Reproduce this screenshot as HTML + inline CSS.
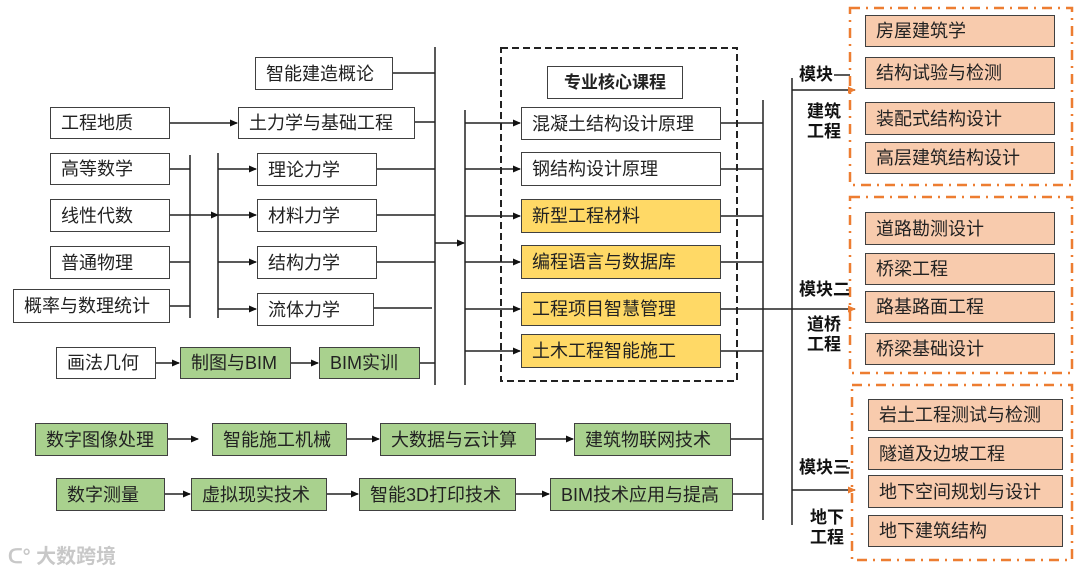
<!DOCTYPE html>
<html><head><meta charset="utf-8"><style>
body{margin:0;width:1080px;height:573px;background:#fff;position:relative;overflow:hidden;font-family:"Liberation Sans","Noto Sans CJK SC",sans-serif;}
.b{position:absolute;box-sizing:border-box;border:1.5px solid #404040;font-size:18px;line-height:1;display:flex;align-items:center;padding-left:10px;color:#222;white-space:nowrap;background:#fff}
.g{background:#a9d18e}
.y{background:#ffd966}
.o{background:#f8cbad}
.c{justify-content:center;padding-left:0}
.t{position:absolute;font-size:17px;font-weight:bold;color:#111;line-height:20px}
svg{position:absolute;left:0;top:0}
</style></head><body>
<svg width="1080" height="573">
<defs><marker id="a" markerWidth="8" markerHeight="8" refX="7" refY="4" orient="auto" markerUnits="userSpaceOnUse"><path d="M0,0.5 L8,4 L0,7.5z" fill="#111"/></marker>
<marker id="ao" markerWidth="8" markerHeight="8" refX="7" refY="4" orient="auto" markerUnits="userSpaceOnUse"><path d="M0,0.5 L8,4 L0,7.5z" fill="#ed7d31"/></marker></defs>
<g stroke="#222" stroke-width="1.5" fill="none">
<line x1="170" y1="123" x2="237" y2="123" marker-end="url(#a)"/>
<line x1="170" y1="169" x2="190" y2="169"/><line x1="170" y1="215" x2="190" y2="215"/><line x1="170" y1="262" x2="190" y2="262"/><line x1="170" y1="306" x2="190" y2="306"/>
<line x1="190" y1="155" x2="190" y2="318"/>
<line x1="190" y1="215" x2="218" y2="215" marker-end="url(#a)"/>
<line x1="218" y1="153" x2="218" y2="318"/>
<line x1="218" y1="169" x2="256" y2="169" marker-end="url(#a)"/><line x1="218" y1="215" x2="256" y2="215" marker-end="url(#a)"/><line x1="218" y1="262" x2="256" y2="262" marker-end="url(#a)"/><line x1="218" y1="309" x2="256" y2="309" marker-end="url(#a)"/>
<line x1="393" y1="73" x2="435" y2="73"/><line x1="415" y1="122" x2="435" y2="122"/>
<line x1="377" y1="169" x2="435" y2="169"/><line x1="377" y1="215" x2="435" y2="215"/><line x1="377" y1="262" x2="435" y2="262"/><line x1="374" y1="308" x2="432" y2="308"/>
<line x1="156" y1="363" x2="179" y2="363" marker-end="url(#a)"/><line x1="291" y1="363" x2="318" y2="363" marker-end="url(#a)"/><line x1="420" y1="363" x2="435" y2="363"/>
<line x1="435" y1="47" x2="435" y2="385"/>
<line x1="435" y1="243" x2="464" y2="243" marker-end="url(#a)"/>
<line x1="465" y1="110" x2="465" y2="385"/>
<line x1="465" y1="123" x2="520" y2="123" marker-end="url(#a)"/><line x1="465" y1="169" x2="520" y2="169" marker-end="url(#a)"/><line x1="465" y1="216" x2="520" y2="216" marker-end="url(#a)"/><line x1="465" y1="262" x2="520" y2="262" marker-end="url(#a)"/><line x1="465" y1="309" x2="520" y2="309" marker-end="url(#a)"/><line x1="465" y1="351" x2="520" y2="351" marker-end="url(#a)"/>
<line x1="721" y1="123" x2="763" y2="123"/><line x1="721" y1="169" x2="763" y2="169"/><line x1="721" y1="216" x2="763" y2="216"/><line x1="721" y1="262" x2="763" y2="262"/><line x1="721" y1="309" x2="855" y2="309" marker-end="url(#ao)"/><line x1="721" y1="351" x2="763" y2="351"/>
<line x1="168" y1="439" x2="198" y2="439" marker-end="url(#a)"/><line x1="347" y1="439" x2="379" y2="439" marker-end="url(#a)"/><line x1="536" y1="439" x2="573" y2="439" marker-end="url(#a)"/><line x1="731" y1="439" x2="763" y2="439"/>
<line x1="165" y1="494" x2="190" y2="494" marker-end="url(#a)"/><line x1="327" y1="494" x2="358" y2="494" marker-end="url(#a)"/><line x1="516" y1="494" x2="549" y2="494" marker-end="url(#a)"/><line x1="733" y1="494" x2="763" y2="494"/>
<line x1="763" y1="100" x2="763" y2="520"/>
<line x1="792" y1="78" x2="792" y2="525"/>
<line x1="792" y1="90" x2="855" y2="90" marker-end="url(#ao)"/>
<line x1="792" y1="490" x2="855" y2="490" marker-end="url(#ao)"/>
<line x1="834" y1="75" x2="850" y2="75"/><line x1="846" y1="290" x2="850" y2="290"/><line x1="846" y1="468" x2="850" y2="468"/>
</g>
<rect x="501" y="48" width="236" height="333" fill="none" stroke="#222" stroke-width="2" stroke-dasharray="7,4"/>
<g fill="none" stroke="#ed7d31" stroke-width="2.5" stroke-dasharray="10,6,2,6">
<rect x="850" y="8" width="222" height="177"/><rect x="850" y="197" width="222" height="176"/><rect x="852" y="385" width="220" height="175"/>
</g>
</svg>
<div class="b" style="left:255px;top:57px;width:138px;height:33px">智能建造概论</div>
<div class="b" style="left:50px;top:107px;width:120px;height:32px">工程地质</div>
<div class="b" style="left:238px;top:107px;width:177px;height:32px">土力学与基础工程</div>
<div class="b" style="left:50px;top:153px;width:120px;height:32px">高等数学</div>
<div class="b" style="left:50px;top:199px;width:120px;height:33px">线性代数</div>
<div class="b" style="left:50px;top:246px;width:120px;height:33px">普通物理</div>
<div class="b" style="left:13px;top:289px;width:157px;height:34px">概率与数理统计</div>
<div class="b" style="left:257px;top:153px;width:120px;height:33px">理论力学</div>
<div class="b" style="left:257px;top:199px;width:120px;height:33px">材料力学</div>
<div class="b" style="left:257px;top:246px;width:120px;height:33px">结构力学</div>
<div class="b" style="left:257px;top:293px;width:117px;height:33px">流体力学</div>
<div class="b" style="left:56px;top:347px;width:100px;height:32px">画法几何</div>
<div class="b g" style="left:180px;top:347px;width:111px;height:32px">制图与BIM</div>
<div class="b g" style="left:319px;top:347px;width:101px;height:32px">BIM实训</div>
<div class="b c" style="left:547px;top:66px;width:136px;height:33px;font-weight:bold;font-size:17px">专业核心课程</div>
<div class="b" style="left:521px;top:107px;width:200px;height:33px">混凝土结构设计原理</div>
<div class="b" style="left:521px;top:152px;width:200px;height:34px">钢结构设计原理</div>
<div class="b y" style="left:521px;top:199px;width:200px;height:34px">新型工程材料</div>
<div class="b y" style="left:521px;top:245px;width:200px;height:34px">编程语言与数据库</div>
<div class="b y" style="left:521px;top:292px;width:200px;height:34px">工程项目智慧管理</div>
<div class="b y" style="left:521px;top:334px;width:200px;height:34px">土木工程智能施工</div>
<div class="b g" style="left:35px;top:423px;width:133px;height:33px">数字图像处理</div>
<div class="b g" style="left:212px;top:423px;width:135px;height:33px">智能施工机械</div>
<div class="b g" style="left:380px;top:423px;width:156px;height:33px">大数据与云计算</div>
<div class="b g" style="left:574px;top:423px;width:157px;height:33px">建筑物联网技术</div>
<div class="b g" style="left:56px;top:478px;width:109px;height:33px">数字测量</div>
<div class="b g" style="left:191px;top:478px;width:136px;height:33px">虚拟现实技术</div>
<div class="b g" style="left:359px;top:478px;width:157px;height:33px">智能3D打印技术</div>
<div class="b g" style="left:550px;top:478px;width:183px;height:33px">BIM技术应用与提高</div>
<div class="b o" style="left:865px;top:15px;width:190px;height:32px">房屋建筑学</div>
<div class="b o" style="left:865px;top:57px;width:190px;height:32px">结构试验与检测</div>
<div class="b o" style="left:865px;top:102px;width:190px;height:33px">装配式结构设计</div>
<div class="b o" style="left:865px;top:142px;width:190px;height:32px">高层建筑结构设计</div>
<div class="b o" style="left:865px;top:212px;width:190px;height:33px">道路勘测设计</div>
<div class="b o" style="left:865px;top:253px;width:190px;height:32px">桥梁工程</div>
<div class="b o" style="left:865px;top:291px;width:190px;height:32px">路基路面工程</div>
<div class="b o" style="left:865px;top:333px;width:190px;height:32px">桥梁基础设计</div>
<div class="b o" style="left:868px;top:399px;width:195px;height:32px">岩土工程测试与检测</div>
<div class="b o" style="left:868px;top:437px;width:195px;height:33px">隧道及边坡工程</div>
<div class="b o" style="left:868px;top:475px;width:195px;height:33px">地下空间规划与设计</div>
<div class="b o" style="left:868px;top:515px;width:195px;height:32px">地下建筑结构</div>
<div class="t" style="left:799px;top:65px">模块</div>
<div class="t" style="left:807px;top:102px;width:36px">建筑<br>工程</div>
<div class="t" style="left:799px;top:280px">模块二</div>
<div class="t" style="left:807px;top:315px;width:36px">道桥<br>工程</div>
<div class="t" style="left:799px;top:458px">模块三</div>
<div class="t" style="left:810px;top:508px;width:36px">地下<br>工程</div>
<div style="position:absolute;left:8px;top:540px;font-size:20px;color:#c8c8c8;font-weight:bold">ᑕ° 大数跨境</div>
</body></html>
